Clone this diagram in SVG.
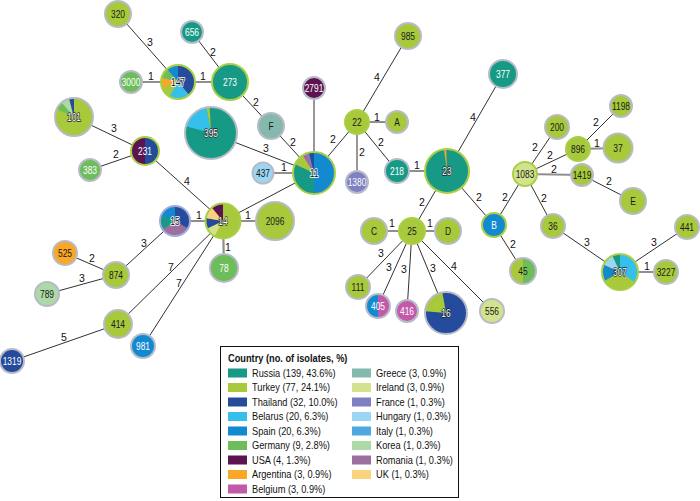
<svg xmlns="http://www.w3.org/2000/svg" width="700" height="501" viewBox="0 0 700 501">
<style>
.e{stroke:#1a1a1a;stroke-width:0.9;fill:none}
.e1{stroke:#8f8f8f;stroke-width:2.2;fill:none}
.el{font-family:"Liberation Sans",Arial,sans-serif;font-size:10.5px;fill:#111;text-anchor:middle}
.nl{font-family:"Liberation Sans",Arial,sans-serif;font-size:10.5px;text-anchor:middle;fill:#1a1a1a}
.w{fill:#fff}
.h{fill:#fff;stroke:#222;stroke-width:1.3;paint-order:stroke;stroke-linejoin:round}
.k{fill:#111;stroke:#fff;stroke-width:1.6;paint-order:stroke;stroke-linejoin:round}
.o{fill:none;stroke:#b6bbc7;stroke-width:2}
.og{fill:none;stroke:#a9cf45;stroke-width:2}
.ru{fill:#169a86}.tu{fill:#a7c93b}.th{fill:#244b9c}.be{fill:#35c0ec}.sp{fill:#138ad0}
.ge{fill:#6dbd5b}.us{fill:#5c1451}.ar{fill:#f8a826}.bg{fill:#c35aa9}.gr{fill:#85b9ad}
.ir{fill:#d2e28d}.fr{fill:#7d80c2}.hu{fill:#9dd6f2}.it{fill:#4fa9de}.ko{fill:#acd9a6}
.ro{fill:#9b6f9e}.uk{fill:#fbd27d}
.lt{font-family:"Liberation Sans",Arial,sans-serif;font-size:10.5px;fill:#111}
.ltt{font-family:"Liberation Sans",Arial,sans-serif;font-size:10.5px;font-weight:bold;fill:#111}
</style>
<rect width="700" height="501" fill="#fff"/>
<g id="connectors">
<line class="e" x1="118" y1="14" x2="178" y2="82"/>
<line class="e1" x1="131" y1="82" x2="178" y2="82"/>
<line class="e1" x1="178" y1="82" x2="230" y2="82"/>
<line class="e" x1="192" y1="32" x2="230" y2="82"/>
<line class="e" x1="230" y1="82" x2="271" y2="126"/>
<line class="e" x1="271" y1="126" x2="314" y2="173"/>
<line class="e" x1="211" y1="133" x2="314" y2="173"/>
<line class="e" x1="314" y1="88" x2="314" y2="173"/>
<line class="e1" x1="263" y1="173" x2="314" y2="173"/>
<line class="e" x1="314" y1="173" x2="357" y2="122"/>
<line class="e" x1="74" y1="117" x2="145" y2="151"/>
<line class="e" x1="90" y1="170" x2="145" y2="151"/>
<line class="e" x1="145" y1="151" x2="223" y2="221"/>
<line class="e" x1="314" y1="173" x2="223" y2="221"/>
<line class="e1" x1="175" y1="221" x2="223" y2="221"/>
<line class="e1" x1="223" y1="221" x2="224" y2="268"/>
<line class="e1" x1="223" y1="221" x2="275" y2="221"/>
<line class="e" x1="175" y1="221" x2="116" y2="275"/>
<line class="e" x1="65" y1="253" x2="116" y2="275"/>
<line class="e" x1="47" y1="294" x2="116" y2="275"/>
<line class="e" x1="223" y1="221" x2="118" y2="324"/>
<line class="e" x1="223" y1="221" x2="143" y2="346"/>
<line class="e" x1="118" y1="324" x2="12" y2="361"/>
<line class="e" x1="357" y1="122" x2="408" y2="36"/>
<line class="e1" x1="357" y1="122" x2="397" y2="122"/>
<line class="e" x1="357" y1="122" x2="357" y2="182"/>
<line class="e" x1="357" y1="122" x2="397" y2="171"/>
<line class="e1" x1="397" y1="171" x2="447" y2="171"/>
<line class="e" x1="447" y1="171" x2="503" y2="74"/>
<line class="e" x1="447" y1="171" x2="412" y2="231"/>
<line class="e" x1="447" y1="171" x2="494" y2="225"/>
<line class="e" x1="494" y1="225" x2="525" y2="174"/>
<line class="e" x1="494" y1="225" x2="523" y2="271"/>
<line class="e1" x1="374" y1="231" x2="412" y2="231"/>
<line class="e1" x1="412" y1="231" x2="448" y2="231"/>
<line class="e" x1="412" y1="231" x2="358" y2="287"/>
<line class="e" x1="412" y1="231" x2="378" y2="306"/>
<line class="e" x1="412" y1="231" x2="407" y2="311"/>
<line class="e" x1="412" y1="231" x2="446" y2="313"/>
<line class="e" x1="412" y1="231" x2="492" y2="311"/>
<line class="e" x1="525" y1="174" x2="557" y2="127"/>
<line class="e" x1="525" y1="174" x2="578" y2="149"/>
<line class="e1" x1="525" y1="174" x2="582" y2="175"/>
<line class="e" x1="525" y1="174" x2="553" y2="226"/>
<line class="e" x1="578" y1="149" x2="621" y2="106"/>
<line class="e1" x1="578" y1="149" x2="618" y2="148"/>
<line class="e" x1="582" y1="175" x2="633" y2="201"/>
<line class="e" x1="553" y1="226" x2="620" y2="272"/>
<line class="e" x1="620" y1="272" x2="687" y2="227"/>
<line class="e1" x1="620" y1="272" x2="666" y2="272"/>
<text class="el" x="150" y="46">3</text>
<text class="el" x="151" y="80">1</text>
<text class="el" x="203" y="80">1</text>
<text class="el" x="213" y="56">2</text>
<text class="el" x="256" y="106">2</text>
<text class="el" x="293" y="146">2</text>
<text class="el" x="266" y="152">3</text>
<text class="el" x="284" y="171">1</text>
<text class="el" x="333" y="143">2</text>
<text class="el" x="114" y="132">3</text>
<text class="el" x="116" y="158">2</text>
<text class="el" x="187" y="185">4</text>
<text class="el" x="199" y="219">1</text>
<text class="el" x="228" y="251">1</text>
<text class="el" x="248" y="219">1</text>
<text class="el" x="144" y="247">3</text>
<text class="el" x="92" y="262">2</text>
<text class="el" x="82" y="282">3</text>
<text class="el" x="171" y="271">7</text>
<text class="el" x="179" y="287">7</text>
<text class="el" x="64" y="341">5</text>
<text class="el" x="377" y="81">4</text>
<text class="el" x="377" y="121">1</text>
<text class="el" x="362" y="156">2</text>
<text class="el" x="381" y="146">2</text>
<text class="el" x="417" y="169">1</text>
<text class="el" x="473" y="121">4</text>
<text class="el" x="422" y="206">2</text>
<text class="el" x="479" y="201">2</text>
<text class="el" x="505" y="201">2</text>
<text class="el" x="513" y="248">2</text>
<text class="el" x="392" y="227">1</text>
<text class="el" x="430" y="227">1</text>
<text class="el" x="381" y="257">3</text>
<text class="el" x="389" y="271">3</text>
<text class="el" x="404" y="273">3</text>
<text class="el" x="433" y="272">3</text>
<text class="el" x="454" y="270">4</text>
<text class="el" x="535" y="151">2</text>
<text class="el" x="550" y="159">2</text>
<text class="el" x="554" y="173">2</text>
<text class="el" x="544" y="202">2</text>
<text class="el" x="596" y="126">2</text>
<text class="el" x="597" y="147">1</text>
<text class="el" x="609" y="185">2</text>
<text class="el" x="587" y="246">3</text>
<text class="el" x="654" y="246">3</text>
<text class="el" x="647" y="270">1</text>
</g>

<g id="n320"><circle class="tu" cx="118" cy="14" r="13"/><circle class="o" cx="118" cy="14" r="13"/><text class="nl" transform="translate(118 17.7) scale(0.8 1)">320</text></g>
<g id="n3000"><circle class="ge" cx="131" cy="82" r="11"/><circle class="o" cx="131" cy="82" r="11"/><text class="nl w" transform="translate(131 85.7) scale(0.8 1)">3000</text></g>
<g id="n656"><circle class="ru" cx="192" cy="32" r="11"/><circle class="o" cx="192" cy="32" r="11"/><text class="nl w" transform="translate(192 35.7) scale(0.8 1)">656</text></g>
<g id="n147"><circle class="tu" cx="178" cy="82" r="17"/>
<path class="th" d="M178,82 L178,65 A17,17 0 0 1 188.93,95.02 Z"/>
<path class="be" d="M178,82 L188.93,95.02 A17,17 0 0 1 169.5,96.72 Z"/>
<path class="ar" d="M178,82 L162.03,87.81 A17,17 0 0 1 161.58,77.6 Z"/>
<path class="ge" d="M178,82 L161.58,77.6 A17,17 0 0 1 167.07,68.98 Z"/>
<path class="sp" d="M178,82 L167.07,68.98 A17,17 0 0 1 178,65 Z"/>
<circle class="og" cx="178" cy="82" r="17"/><text class="nl k" transform="translate(178 85.7) scale(0.8 1)">147</text></g>
<g id="n273"><circle class="ru" cx="230" cy="82" r="18"/><circle class="og" cx="230" cy="82" r="18"/><text class="nl w" transform="translate(230 85.7) scale(0.8 1)">273</text></g>
<g id="n101"><circle class="tu" cx="74" cy="117" r="19"/>
<path class="ge" d="M74,117 L56.78,108.97 A19,19 0 0 1 61.79,102.45 Z"/>
<path class="ko" d="M74,117 L61.79,102.45 A19,19 0 0 1 69.08,98.65 Z"/>
<path class="th" d="M74,117 L69.08,98.65 A19,19 0 0 1 74,98 Z"/>
<circle class="o" cx="74" cy="117" r="19"/><text class="nl h" transform="translate(74 120.7) scale(0.8 1)">101</text></g>
<g id="n231"><circle class="us" cx="145" cy="151" r="14"/>
<path class="th" d="M145,151 L145,137 A14,14 0 0 1 145,165 Z"/>
<circle class="og" cx="145" cy="151" r="14"/><text class="nl w" transform="translate(145 154.7) scale(0.8 1)">231</text></g>
<g id="n383"><circle class="ge" cx="90" cy="170" r="11"/><circle class="o" cx="90" cy="170" r="11"/><text class="nl w" transform="translate(90 173.7) scale(0.8 1)">383</text></g>
<g id="n395"><circle class="ru" cx="211" cy="133" r="26"/>
<path class="be" d="M211,133 L185.89,126.27 A26,26 0 0 1 206.49,107.4 Z"/>
<path class="tu" d="M211,133 L206.49,107.4 A26,26 0 0 1 209.64,107.04 Z"/>
<circle class="o" cx="211" cy="133" r="26"/><text class="nl h" transform="translate(211 136.7) scale(0.8 1)">395</text></g>
<g id="nF"><circle class="gr" cx="271" cy="126" r="13"/><circle class="o" cx="271" cy="126" r="13"/><text class="nl" transform="translate(271 129.7) scale(0.8 1)">F</text></g>
<g id="n2791"><circle class="us" cx="314" cy="88" r="11"/><circle class="o" cx="314" cy="88" r="11"/><text class="nl w" transform="translate(314 91.7) scale(0.8 1)">2791</text></g>
<g id="n437"><circle class="hu" cx="263" cy="173" r="10.5"/><circle class="o" cx="263" cy="173" r="10.5"/><text class="nl" transform="translate(263 176.7) scale(0.8 1)">437</text></g>
<g id="n11"><circle class="ru" cx="314" cy="173" r="21"/>
<path class="sp" d="M314,173 L314,152 A21,21 0 0 1 314,194 Z"/>
<path class="tu" d="M314,173 L294.97,164.13 A21,21 0 0 1 302.87,155.19 Z"/>
<path class="bg" d="M314,173 L302.87,155.19 A21,21 0 0 1 305.8,153.67 Z"/>
<path class="fr" d="M314,173 L305.8,153.67 A21,21 0 0 1 308.92,152.62 Z"/>
<path class="th" d="M314,173 L308.92,152.62 A21,21 0 0 1 314,152 Z"/>
<circle class="og" cx="314" cy="173" r="21"/><text class="nl k" transform="translate(314 176.7) scale(0.8 1)">11</text></g>
<g id="n22"><circle class="tu" cx="357" cy="122" r="12"/><circle class="og" cx="357" cy="122" r="12"/><text class="nl" transform="translate(357 125.7) scale(0.8 1)">22</text></g>
<g id="nA"><circle class="tu" cx="397" cy="122" r="11"/><circle class="o" cx="397" cy="122" r="11"/><text class="nl" transform="translate(397 125.7) scale(0.8 1)">A</text></g>
<g id="n985"><circle class="tu" cx="408" cy="36" r="13"/><circle class="o" cx="408" cy="36" r="13"/><text class="nl" transform="translate(408 39.7) scale(0.8 1)">985</text></g>
<g id="n1380"><circle class="fr" cx="357" cy="182" r="11"/><circle class="o" cx="357" cy="182" r="11"/><text class="nl w" transform="translate(357 185.7) scale(0.8 1)">1380</text></g>
<g id="n218"><circle class="ru" cx="397" cy="171" r="12"/><circle class="o" cx="397" cy="171" r="12"/><text class="nl w" transform="translate(397 174.7) scale(0.8 1)">218</text></g>
<g id="n377"><circle class="ru" cx="503" cy="74" r="14"/><circle class="o" cx="503" cy="74" r="14"/><text class="nl w" transform="translate(503 77.7) scale(0.8 1)">377</text></g>
<g id="n23"><circle class="ru" cx="447" cy="171" r="22"/>
<path class="ar" d="M447,171 L443.94,149.21 A22,22 0 0 1 446.23,149.01 Z"/>
<circle class="og" cx="447" cy="171" r="22"/><text class="nl h" transform="translate(447 174.7) scale(0.8 1)">23</text></g>
<g id="n1083"><circle class="ir" cx="525" cy="174" r="12"/><circle class="og" cx="525" cy="174" r="12"/><text class="nl" transform="translate(525 177.7) scale(0.8 1)">1083</text></g>
<g id="n200"><circle class="tu" cx="557" cy="127" r="12"/><circle class="o" cx="557" cy="127" r="12"/><text class="nl" transform="translate(557 130.7) scale(0.8 1)">200</text></g>
<g id="n896"><circle class="tu" cx="578" cy="149" r="12"/><circle class="og" cx="578" cy="149" r="12"/><text class="nl" transform="translate(578 152.7) scale(0.8 1)">896</text></g>
<g id="n1198"><circle class="tu" cx="621" cy="106" r="11"/><circle class="o" cx="621" cy="106" r="11"/><text class="nl" transform="translate(621 109.7) scale(0.8 1)">1198</text></g>
<g id="n37"><circle class="tu" cx="618" cy="148" r="14.5"/><circle class="o" cx="618" cy="148" r="14.5"/><text class="nl" transform="translate(618 151.7) scale(0.8 1)">37</text></g>
<g id="n1419"><circle class="tu" cx="582" cy="175" r="11"/><circle class="o" cx="582" cy="175" r="11"/><text class="nl" transform="translate(582 178.7) scale(0.8 1)">1419</text></g>
<g id="nE"><circle class="tu" cx="633" cy="201" r="13"/><circle class="o" cx="633" cy="201" r="13"/><text class="nl" transform="translate(633 204.7) scale(0.8 1)">E</text></g>
<g id="nB"><circle class="sp" cx="494" cy="225" r="12"/><circle class="og" cx="494" cy="225" r="12"/><text class="nl w" transform="translate(494 228.7) scale(0.8 1)">B</text></g>
<g id="n36"><circle class="tu" cx="553" cy="226" r="12"/><circle class="o" cx="553" cy="226" r="12"/><text class="nl" transform="translate(553 229.7) scale(0.8 1)">36</text></g>
<g id="n441"><circle class="tu" cx="687" cy="227" r="12"/><circle class="o" cx="687" cy="227" r="12"/><text class="nl" transform="translate(687 230.7) scale(0.8 1)">441</text></g>
<g id="n45"><circle class="tu" cx="523" cy="271" r="13"/>
<path class="ge" d="M523,271 L523,258 A13,13 0 0 1 523,284 Z"/>
<circle class="o" cx="523" cy="271" r="13"/><text class="nl" transform="translate(523 274.7) scale(0.8 1)">45</text></g>
<g id="n307"><circle class="tu" cx="620" cy="272" r="18"/>
<path class="be" d="M620,272 L620,254 A18,18 0 0 1 634.75,282.32 Z"/>
<path class="sp" d="M620,272 L604.41,281 A18,18 0 0 1 603.69,264.39 Z"/>
<path class="hu" d="M620,272 L603.69,264.39 A18,18 0 0 1 612.39,255.69 Z"/>
<path class="ru" d="M620,272 L612.39,255.69 A18,18 0 0 1 620,254 Z"/>
<circle class="og" cx="620" cy="272" r="18"/><text class="nl h" transform="translate(620 275.7) scale(0.8 1)">307</text></g>
<g id="n3227"><circle class="tu" cx="666" cy="272" r="12"/><circle class="o" cx="666" cy="272" r="12"/><text class="nl" transform="translate(666 275.7) scale(0.8 1)">3227</text></g>
<g id="n25"><circle class="tu" cx="412" cy="231" r="13"/><circle class="og" cx="412" cy="231" r="13"/><text class="nl" transform="translate(412 234.7) scale(0.8 1)">25</text></g>
<g id="nC"><circle class="tu" cx="374" cy="231" r="13"/><circle class="o" cx="374" cy="231" r="13"/><text class="nl" transform="translate(374 234.7) scale(0.8 1)">C</text></g>
<g id="nD"><circle class="tu" cx="448" cy="231" r="13"/><circle class="o" cx="448" cy="231" r="13"/><text class="nl" transform="translate(448 234.7) scale(0.8 1)">D</text></g>
<g id="n111"><circle class="tu" cx="358" cy="287" r="12"/><circle class="o" cx="358" cy="287" r="12"/><text class="nl" transform="translate(358 290.7) scale(0.8 1)">111</text></g>
<g id="n405"><circle class="sp" cx="378" cy="306" r="12"/>
<path class="bg" d="M378,306 L378,294 A12,12 0 0 1 378,318 Z"/>
<circle class="o" cx="378" cy="306" r="12"/><text class="nl w" transform="translate(378 309.7) scale(0.8 1)">405</text></g>
<g id="n416"><circle class="bg" cx="407" cy="311" r="11"/><circle class="o" cx="407" cy="311" r="11"/><text class="nl w" transform="translate(407 314.7) scale(0.8 1)">416</text></g>
<g id="n16"><circle class="th" cx="446" cy="313" r="21"/>
<path class="tu" d="M446,313 L425.08,311.17 A21,21 0 0 1 442.35,292.32 Z"/>
<circle class="o" cx="446" cy="313" r="21"/><text class="nl h" transform="translate(446 316.7) scale(0.8 1)">16</text></g>
<g id="n556"><circle class="ir" cx="492" cy="311" r="12"/><circle class="o" cx="492" cy="311" r="12"/><text class="nl" transform="translate(492 314.7) scale(0.8 1)">556</text></g>
<g id="n14"><circle class="tu" cx="223" cy="221" r="17.5"/>
<path class="ir" d="M223,221 L214.25,236.16 A17.5,17.5 0 0 1 207.14,228.4 Z"/>
<path class="th" d="M223,221 L207.14,228.4 A17.5,17.5 0 0 1 205.77,217.96 Z"/>
<path class="uk" d="M223,221 L205.77,217.96 A17.5,17.5 0 0 1 211.75,207.59 Z"/>
<path class="us" d="M223,221 L211.75,207.59 A17.5,17.5 0 0 1 223,203.5 Z"/>
<circle class="og" cx="223" cy="221" r="17.5"/><text class="nl h" transform="translate(223 224.7) scale(0.8 1)">14</text></g>
<g id="n15"><circle class="ru" cx="175" cy="221" r="15"/>
<path class="th" d="M175,221 L175,206 A15,15 0 0 1 187.99,228.5 Z"/>
<path class="ro" d="M175,221 L187.99,228.5 A15,15 0 0 1 162.71,229.6 Z"/>
<path class="sp" d="M175,221 L161.41,214.66 A15,15 0 0 1 175,206 Z"/>
<circle cx="175" cy="221" r="15" fill="none" stroke="#a2a9dc" stroke-width="2"/><text class="nl k" transform="translate(175 224.7) scale(0.8 1)">15</text></g>
<g id="n2096"><circle class="tu" cx="275" cy="221" r="19"/><circle class="o" cx="275" cy="221" r="19"/><text class="nl" transform="translate(275 224.7) scale(0.8 1)">2096</text></g>
<g id="n78"><circle class="ge" cx="224" cy="268" r="14"/><circle class="o" cx="224" cy="268" r="14"/><text class="nl w" transform="translate(224 271.7) scale(0.8 1)">78</text></g>
<g id="n525"><circle class="ar" cx="65" cy="253" r="12"/><circle class="o" cx="65" cy="253" r="12"/><text class="nl" transform="translate(65 256.7) scale(0.8 1)">525</text></g>
<g id="n874"><circle class="tu" cx="116" cy="275" r="13"/><circle class="o" cx="116" cy="275" r="13"/><text class="nl" transform="translate(116 278.7) scale(0.8 1)">874</text></g>
<g id="n789"><circle class="ko" cx="47" cy="294" r="12"/><circle class="o" cx="47" cy="294" r="12"/><text class="nl" transform="translate(47 297.7) scale(0.8 1)">789</text></g>
<g id="n414"><circle class="tu" cx="118" cy="324" r="14"/><circle class="o" cx="118" cy="324" r="14"/><text class="nl" transform="translate(118 327.7) scale(0.8 1)">414</text></g>
<g id="n981"><circle class="sp" cx="143" cy="346" r="12"/><circle class="o" cx="143" cy="346" r="12"/><text class="nl w" transform="translate(143 349.7) scale(0.8 1)">981</text></g>
<g id="n1319"><circle class="th" cx="12" cy="361" r="12"/><circle class="o" cx="12" cy="361" r="12"/><text class="nl w" transform="translate(12 364.7) scale(0.8 1)">1319</text></g>

<g id="legend">
<rect x="220.5" y="346.5" width="238" height="151" fill="#fff" stroke="#111" stroke-width="1"/>
<text class="ltt" transform="translate(228 362) scale(0.88 1)">Country (no. of isolates, %)</text>
<rect class="ru" x="228" y="368.5" width="19" height="9"/>
<rect class="tu" x="228" y="383" width="19" height="9"/>
<rect class="th" x="228" y="397.5" width="19" height="9"/>
<rect class="be" x="228" y="412" width="19" height="9"/>
<rect class="sp" x="228" y="426.5" width="19" height="9"/>
<rect class="ge" x="228" y="441" width="19" height="9"/>
<rect class="us" x="228" y="455.5" width="19" height="9"/>
<rect class="ar" x="228" y="470" width="19" height="9"/>
<rect class="bg" x="228" y="484.5" width="19" height="9"/>
<rect class="gr" x="352" y="368.5" width="19" height="9"/>
<rect class="ir" x="352" y="383" width="19" height="9"/>
<rect class="fr" x="352" y="397.5" width="19" height="9"/>
<rect class="hu" x="352" y="412" width="19" height="9"/>
<rect class="it" x="352" y="426.5" width="19" height="9"/>
<rect class="ko" x="352" y="441" width="19" height="9"/>
<rect class="ro" x="352" y="455.5" width="19" height="9"/>
<rect class="uk" x="352" y="470" width="19" height="9"/>
<g transform="translate(252 0) scale(0.88 1)">
<text class="lt" x="0" y="377">Russia (139, 43.6%)</text>
<text class="lt" x="0" y="391.5">Turkey (77, 24.1%)</text>
<text class="lt" x="0" y="406">Thailand (32, 10.0%)</text>
<text class="lt" x="0" y="420.5">Belarus (20, 6.3%)</text>
<text class="lt" x="0" y="435">Spain (20, 6.3%)</text>
<text class="lt" x="0" y="449.5">Germany (9, 2.8%)</text>
<text class="lt" x="0" y="464">USA (4, 1.3%)</text>
<text class="lt" x="0" y="478.5">Argentina (3, 0.9%)</text>
<text class="lt" x="0" y="493">Belgium (3, 0.9%)</text>
</g>
<g transform="translate(376 0) scale(0.88 1)">
<text class="lt" x="0" y="377">Greece (3, 0.9%)</text>
<text class="lt" x="0" y="391.5">Ireland (3, 0.9%)</text>
<text class="lt" x="0" y="406">France (1, 0.3%)</text>
<text class="lt" x="0" y="420.5">Hungary (1, 0.3%)</text>
<text class="lt" x="0" y="435">Italy (1, 0.3%)</text>
<text class="lt" x="0" y="449.5">Korea (1, 0.3%)</text>
<text class="lt" x="0" y="464">Romania (1, 0.3%)</text>
<text class="lt" x="0" y="478.5">UK (1, 0.3%)</text>
</g>
</g>
</svg>
